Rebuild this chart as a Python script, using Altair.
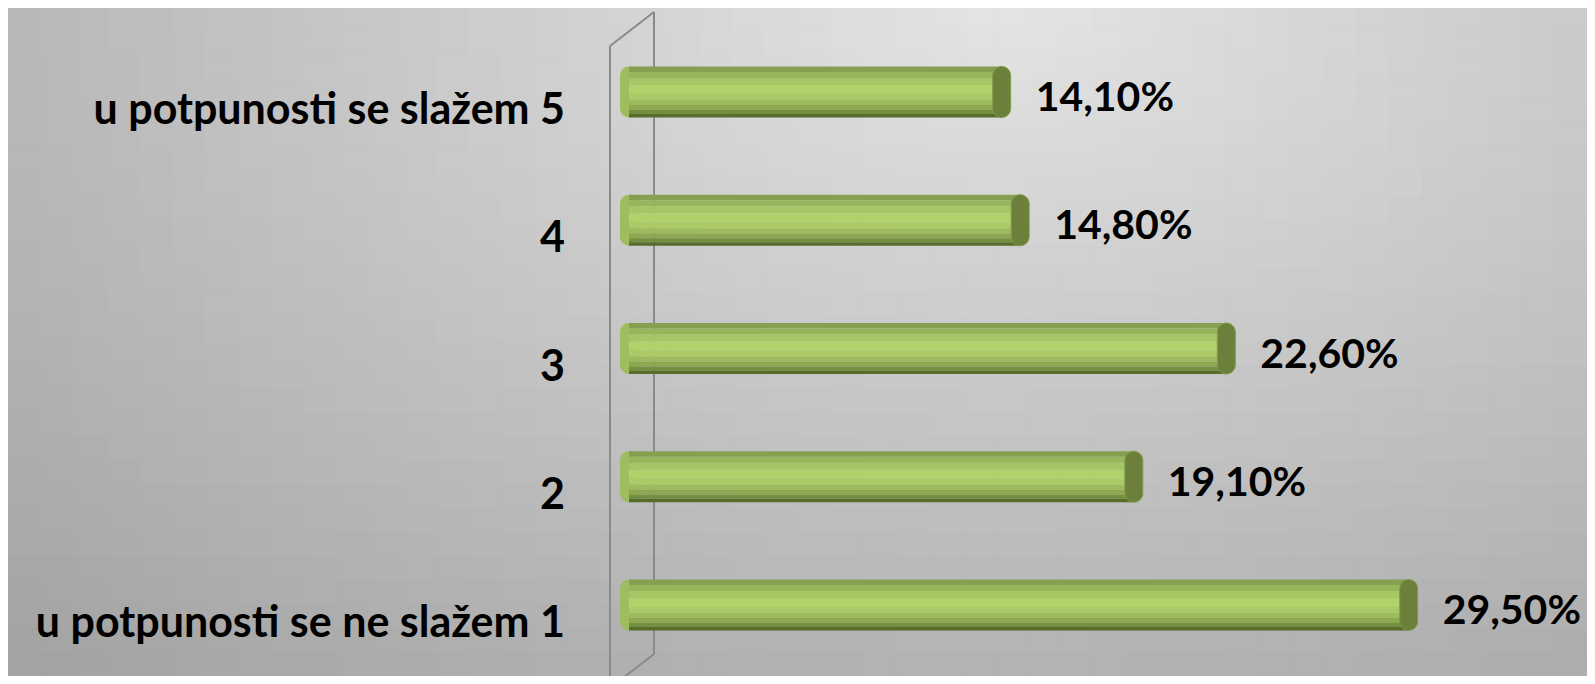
import altair as alt
import pandas as pd
import math

categories = ["u potpunosti se slažem 5", "4", "3", "2", "u potpunosti se ne slažem 1"]
values = [14.1, 14.8, 22.6, 19.1, 29.5]

df = pd.DataFrame({"cat": categories, "value": values})
df["pos"] = list(range(len(categories)))
df["zero"] = 0.0
df["lab"] = [f"{v:.2f}".replace(".", ",") + "%" for v in values]

# ---- styling / layout constants ----
W, H = 1579, 668
PX_X = 26.43          # pixels per percent
PX_Y = 128.25         # pixels per category step
X0_PX = 621.0         # pixel position of 0 %
Y0_PX = 84.0          # pixel position of first category centre
FONT = "Lato"

# cylinder shading stripes: (top offset px, bottom offset px, colour)
stripe_top = [-25.5, -20, -14, -7, 2, 8, 13, 18, 22]
stripe_bot = [-20, -14, -7, 2, 8, 13, 18, 22, 25.5]
stripe_col = ["#86a052", "#97b65b", "#a5c664", "#b0d26b", "#a9ca66",
              "#9dbb5d", "#8ca850", "#748f40", "#566d2c"]
stripes = pd.DataFrame({"o0": stripe_top, "o1": stripe_bot, "col": stripe_col})
bars_df = df.merge(stripes, how="cross")

CAP_HALF = 9.0 / PX_X   # half width of end caps, in % units
HALF_H = 25.5 / PX_Y    # half bar height, in category units

x_min, x_max = -X0_PX / PX_X, (W - X0_PX) / PX_X
y_min, y_max = -Y0_PX / PX_Y, (H - Y0_PX) / PX_Y
x_scale = alt.Scale(domain=[x_min, x_max], nice=False, zero=False)
y_scale = alt.Scale(domain=[y_min, y_max], nice=False, zero=False, reverse=True)

# background shading cells (soft light spot near the top, darker edges)
NC, NR = 48, 28
cells = []
for i in range(NC):
    for j in range(NR):
        cx = (i + 0.5) / NC - 0.63
        cy = (j + 0.5) / NR
        d = math.sqrt(2.0 * cx * cx + cy * cy)
        g = int(round(max(163, 228 - 50 * d)))
        cells.append({
            "bx0": x_min + (x_max - x_min) * i / NC,
            "bx1": x_min + (x_max - x_min) * (i + 1) / NC,
            "by0": y_min + (y_max - y_min) * j / NR,
            "by1": y_min + (y_max - y_min) * (j + 1) / NR,
            "bcol": f"#{g:02x}{g:02x}{g:02x}",
        })
bg_df = pd.DataFrame(cells)

bg = alt.Chart(bg_df).mark_rect(strokeWidth=1, clip=True).encode(
    x=alt.X("bx0:Q", scale=x_scale, axis=None), x2="bx1:Q",
    y=alt.Y("by0:Q", scale=y_scale, axis=None), y2="by1:Q",
    color=alt.Color("bcol:N", scale=None, legend=None),
    stroke=alt.Stroke("bcol:N", scale=None, legend=None))

one = alt.Data(values=[{"k": 1}])

wall_color = "#8a8a8a"
wall_segments = [(602, 38, 602, 668), (646, 4, 646, 646), (602, 38, 646, 4), (646, 646, 602, 680)]
wall_layers = [
    alt.Chart(one).mark_rule(color=wall_color, strokeWidth=2, clip=True).encode(
        x=alt.value(x1), y=alt.value(y1), x2=alt.value(x2), y2=alt.value(y2))
    for (x1, y1, x2, y2) in wall_segments
]

base = alt.Chart(df)

left_cap = base.transform_calculate(
    xa=f"datum.zero - {CAP_HALF}", xb=f"datum.zero + {CAP_HALF}",
    ya=f"datum.pos - {HALF_H}", yb=f"datum.pos + {HALF_H}"
).mark_rect(cornerRadius=9, color="#9dbd5e").encode(
    x=alt.X("xa:Q", scale=x_scale, axis=None), x2="xb:Q",
    y=alt.Y("ya:Q", scale=y_scale, axis=None), y2="yb:Q")

body = alt.Chart(bars_df).transform_calculate(
    ya=f"datum.pos + datum.o0 / {PX_Y}", yb=f"datum.pos + datum.o1 / {PX_Y}"
).mark_rect().encode(
    x=alt.X("zero:Q", scale=x_scale, axis=None), x2="value:Q",
    y=alt.Y("ya:Q", scale=y_scale, axis=None), y2="yb:Q",
    color=alt.Color("col:N", scale=None, legend=None))

right_cap = base.transform_calculate(
    xa=f"datum.value - {CAP_HALF}", xb=f"datum.value + {CAP_HALF}",
    ya=f"datum.pos - {HALF_H}", yb=f"datum.pos + {HALF_H}"
).mark_rect(cornerRadius=9, color="#6c803c", stroke="#839c4a", strokeWidth=1).encode(
    x=alt.X("xa:Q", scale=x_scale, axis=None), x2="xb:Q",
    y=alt.Y("ya:Q", scale=y_scale, axis=None), y2="yb:Q")

value_labels = base.mark_text(align="left", baseline="middle", dx=34, dy=7, fontSize=41,
                              font=FONT, fontWeight="bold", color="#000000",
                              clip=True).encode(
    x=alt.X("value:Q", scale=x_scale, axis=None),
    y=alt.Y("pos:Q", scale=y_scale, axis=None), text="lab:N")

cat_labels = base.mark_text(align="right", baseline="middle", dy=19, fontSize=43,
                            font=FONT, fontWeight="bold", color="#000000").encode(
    x=alt.value(557),
    y=alt.Y("pos:Q", scale=y_scale, axis=None), text="cat:N")

chart = alt.layer(bg, *wall_layers, left_cap, body, right_cap, value_labels, cat_labels).properties(
    width=W, height=H, padding=0,
    autosize=alt.AutoSizeParams(type="fit", contains="padding"),
    background="#c4c4c4",
).configure_view(strokeWidth=0)

chart.save("out.html", embed_options={"renderer": "svg", "actions": False})
